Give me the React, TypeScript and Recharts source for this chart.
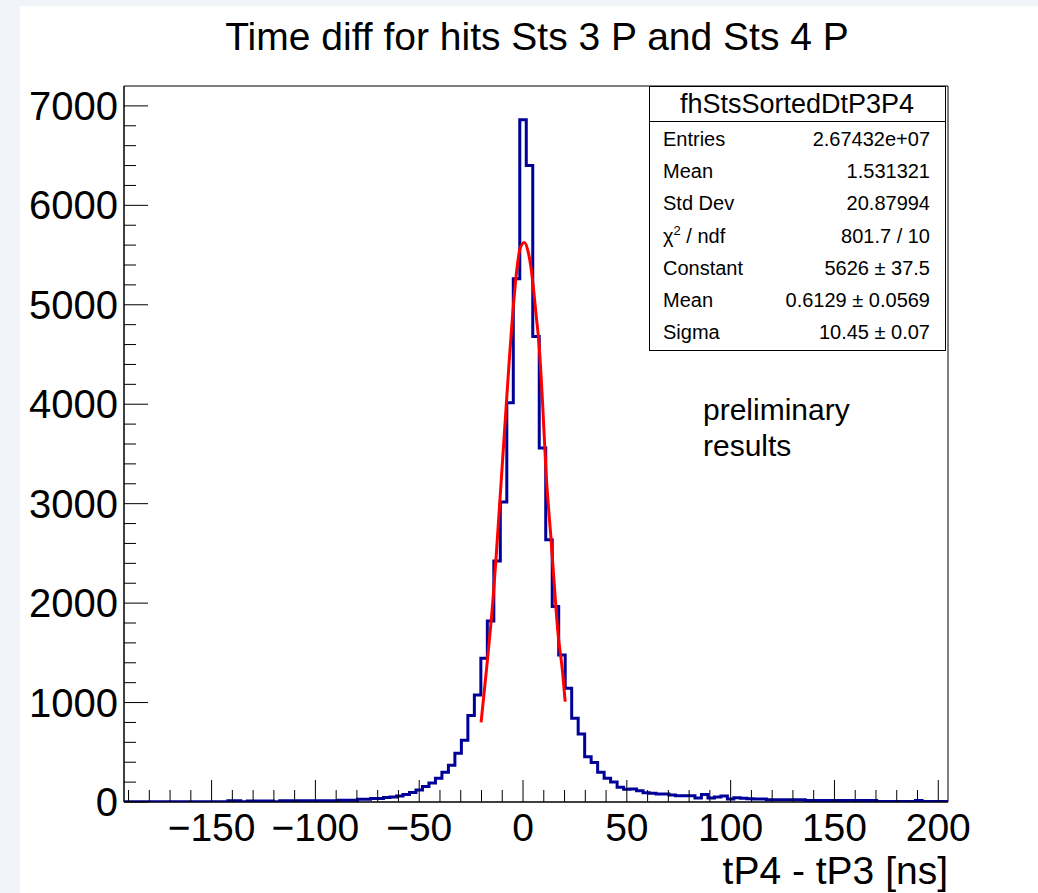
import React from "react";
import { ComposedChart, Line, XAxis, YAxis, ReferenceArea } from "recharts";

// histogram binning (ns)
const BIN_LO = -192.1875;
const BIN_WIDTH = 3.125;
const X_MAX = 204.6875;
const Y_MAX = 7200;

// bin contents (127 bins)
const counts = [
  3, 3, 3, 3, 3, 3, 3, 3, 3, 3, 3, 3, 3, 3, 3, 3,
  12, 12, 2, 10, 10, 10, 10, 3,
  12, 12, 12, 12, 12, 12, 12, 12, 12,
  18, 18, 18, 28, 28, 35, 35, 45, 50, 60, 75, 95,
  120, 155, 190, 240, 300, 370, 490, 620, 870, 1076,
  1445, 1820, 2424, 3018, 4014, 5261, 6860, 6400, 4680, 3560,
  2636, 1965, 1479, 1144, 842, 684, 456, 396, 300, 240,
  200, 148, 128, 130, 114, 94, 87, 80, 80, 70,
  64, 64, 64, 40, 75, 40, 50, 60, 30, 43,
  37, 33, 30, 30,
  22, 22, 22, 22, 22, 22,
  15, 15, 15, 15, 15, 15, 15, 15, 15, 15, 15,
  5, 5, 5, 5, 5, 5,
  15,
  5, 5, 5, 5,
];

// gaus fit curve
const fitX = [-20.2, -18, -16.2, -14.6, -13, -10.6, -8.2, -6.6, -5, -3, -1.5, 0.6, 2.5, 3.8, 6.3, 7.8, 9.5, 11.1, 13.5, 15, 16.7, 19.1, 20.3];
const fitY = [800, 1250, 1630, 2000, 2450, 3200, 3950, 4450, 4900, 5350, 5560, 5626, 5530, 5380, 4900, 4580, 3980, 3310, 2640, 2200, 1730, 1295, 1010];

const xTicks = [
  -190, -180, -170, -160, -150, -140, -130, -120, -110, -100,
  -90, -80, -70, -60, -50, -40, -30, -20, -10, 0,
  10, 20, 30, 40, 50, 60, 70, 80, 90, 100,
  110, 120, 130, 140, 150, 160, 170, 180, 190, 200,
];
const yTicks = [
  0, 200, 400, 600, 800, 1000, 1200, 1400, 1600, 1800,
  2000, 2200, 2400, 2600, 2800, 3000, 3200, 3400, 3600, 3800,
  4000, 4200, 4400, 4600, 4800, 5000, 5200, 5400, 5600, 5800,
  6000, 6200, 6400, 6600, 6800, 7000,
];

const statsRows = [
  ["Entries", "2.67432e+07"],
  ["Mean", "1.531321"],
  ["Std Dev", "20.87994"],
  ["chi2", "801.7 / 10"],
  ["Constant", "5626 \u00b1 37.5"],
  ["Mean", "0.6129 \u00b1 0.0569"],
  ["Sigma", "10.45 \u00b1 0.07"],
];

const histData = counts.map((c, i) => ({ x: BIN_LO + i * BIN_WIDTH, y: c }));
histData.push({ x: X_MAX, y: counts[counts.length - 1] });
const fitData = fitX.map((x, i) => ({ x, y: fitY[i] }));

const FONT = "'Liberation Sans', Arial, Helvetica, sans-serif";
const PLOT_BOTTOM = 802;
const PLOT_LEFT = 124;

function XTick(props: any) {
  const { x, payload } = props;
  const y = PLOT_BOTTOM;
  const v = payload.value as number;
  const major = v % 50 === 0;
  const label = String(v).replace("-", "\u2212");
  return (
    <g>
      <line x1={x} x2={x} y1={y} y2={y - (major ? 22 : 12)} stroke="#000" strokeWidth={1} />
      {major && (
        <text x={x} y={y + 39} textAnchor="middle" fontSize={39} fontFamily={FONT} fill="#000">
          {label}
        </text>
      )}
    </g>
  );
}

function YTick(props: any) {
  const { y, payload } = props;
  const x = PLOT_LEFT;
  const v = payload.value as number;
  const major = v % 1000 === 0;
  return (
    <g>
      <line x1={x} x2={x + (major ? 24 : 12)} y1={y} y2={y} stroke="#000" strokeWidth={1} />
      {major && (
        <text x={x - 6} y={y + 14} textAnchor="end" fontSize={40} fontFamily={FONT} fill="#000">
          {v}
        </text>
      )}
    </g>
  );
}

export default function App() {
  return (
    <div style={{ position: "absolute", left: 0, top: 0, width: 1038, height: 893, background: "#f0f4f9", overflow: "hidden" }}>
      <div style={{ position: "absolute", left: 20, top: 6, right: 0, bottom: 0, background: "#fff" }} />
      <div style={{ position: "absolute", left: 0, top: 0 }}>
        <ComposedChart width={1038} height={893} margin={{ top: 86, right: 90, bottom: 31, left: 24 }}>
          <XAxis
            dataKey="x"
            type="number"
            domain={[BIN_LO, X_MAX]}
            allowDataOverflow
            ticks={xTicks}
            interval={0}
            height={60}
            tickLine={false}
            axisLine={{ stroke: "#000" }}
            tick={<XTick />}
          />
          <YAxis
            type="number"
            domain={[0, Y_MAX]}
            allowDataOverflow
            ticks={yTicks}
            interval={0}
            width={100}
            tickLine={false}
            axisLine={{ stroke: "#000" }}
            tick={<YTick />}
          />
          <ReferenceArea x1={BIN_LO} x2={X_MAX} y1={0} y2={Y_MAX} fill="none" stroke="#000" strokeWidth={1} fillOpacity={0} />
          <Line
            data={histData}
            dataKey="y"
            type="stepAfter"
            stroke="#000099"
            strokeWidth={3}
            dot={false}
            activeDot={false}
            isAnimationActive={false}
          />
          <Line
            data={fitData}
            dataKey="y"
            type="monotone"
            stroke="#ff0000"
            strokeWidth={3}
            dot={false}
            activeDot={false}
            isAnimationActive={false}
          />
        </ComposedChart>
      </div>
      <svg width={1038} height={893} style={{ position: "absolute", left: 0, top: 0, pointerEvents: "none" }} fontFamily={FONT}>
        <text x={537} y={50} textAnchor="middle" fontSize={39} fill="#000">
          Time diff for hits Sts 3 P and Sts 4 P
        </text>
        <text x={948} y={884} textAnchor="end" fontSize={39} fill="#000">
          tP4 - tP3 [ns]
        </text>
        <text x={703} y={420} fontSize={30} fill="#000">preliminary</text>
        <text x={703} y={456} fontSize={30} fill="#000">results</text>

        <rect x={649.5} y={86.5} width={296} height={264} fill="#fff" stroke="#000" strokeWidth={1} />
        <line x1={649.5} x2={945.5} y1={121.5} y2={121.5} stroke="#000" strokeWidth={1} />
        <text x={797} y={113} textAnchor="middle" fontSize={27} fill="#000">fhStsSortedDtP3P4</text>
        {statsRows.map(([label, value], i) => {
          const yb = 146 + i * 32.2;
          return (
            <g key={i}>
              <text x={663} y={yb} fontSize={20} fill="#000">
                {label === "chi2" ? (
                  <>
                    {"\u03c7"}
                    <tspan fontSize={13} dy={-8}>2</tspan>
                    <tspan dy={8}>{" / ndf"}</tspan>
                  </>
                ) : (
                  label
                )}
              </text>
              <text x={930} y={yb} textAnchor="end" fontSize={20} fill="#000">
                {value}
              </text>
            </g>
          );
        })}
      </svg>
    </div>
  );
}
